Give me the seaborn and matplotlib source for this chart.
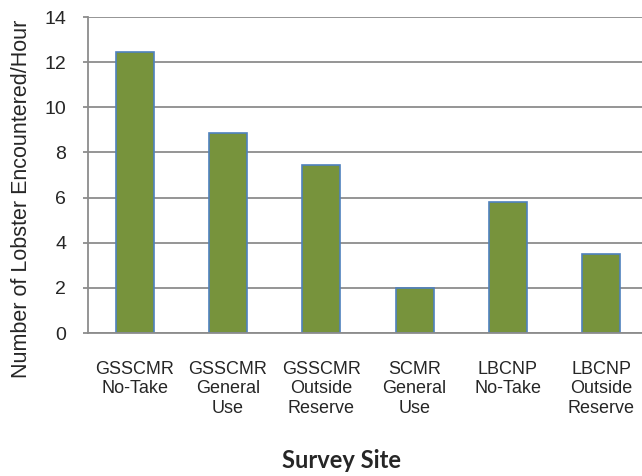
import matplotlib
matplotlib.use("Agg")
import matplotlib.pyplot as plt
import seaborn as sns
import pandas as pd

# values
sites = ["GSSCMR\nNo-Take", "GSSCMR\nGeneral\nUse", "GSSCMR\nOutside\nReserve",
         "SCMR\nGeneral\nUse", "LBCNP\nNo-Take", "LBCNP\nOutside\nReserve"]
lobster_per_hour = [12.45, 8.85, 7.45, 2.0, 5.82, 3.5]

df = pd.DataFrame({"site": sites, "rate": lobster_per_hour})

sns.set_style("white")
plt.rcParams["font.family"] = ["Liberation Sans", "DejaVu Sans"]

fig = plt.figure(figsize=(6.42, 4.76), dpi=100)
ax = fig.add_axes([88 / 642, 1 - 333 / 476, 560 / 642, 316 / 476])

sns.barplot(data=df, x="site", y="rate", color="#77933C", saturation=1,
            width=0.41, edgecolor="#4F81BD", linewidth=1.2, ax=ax, zorder=3)

ax.set_ylim(0, 14)
ax.set_yticks(range(0, 15, 2))
ax.set_xlim(-0.5, len(sites) - 0.5)
ax.yaxis.grid(True, color="#8C8C8C", linewidth=1.3, zorder=0)
ax.set_axisbelow(True)

for side in ["top", "right", "bottom"]:
    ax.spines[side].set_visible(False)
ax.spines["left"].set_color("#8C8C8C")
ax.spines["left"].set_linewidth(1.3)
ax.axhline(0, color="#8C8C8C", linewidth=1.3, zorder=4, clip_on=False)

# category boundary ticks on x axis
ax.set_xticks([i - 0.5 for i in range(len(sites) + 1)], minor=True)
ax.tick_params(axis="x", which="minor", length=3.6, color="#8C8C8C", width=1.3)
ax.tick_params(axis="x", which="major", length=0, labelsize=13, pad=20)
ax.tick_params(axis="y", length=3.6, color="#8C8C8C", width=1.3, left=True,
               labelsize=14, pad=12)

ax.set_ylabel("Number of Lobster Encountered/Hour", fontsize=15.5)
ax.yaxis.set_label_coords(-0.10, 0.426)
ax.set_xlabel("Survey Site", fontsize=17, fontweight="bold",
              family=["Lato", "DejaVu Sans"])
ax.xaxis.set_label_coords(0.452, -0.367)

fig.savefig("out.png", dpi=100)
